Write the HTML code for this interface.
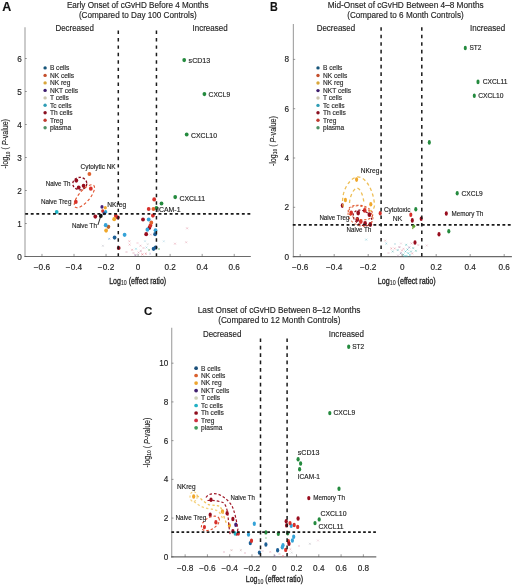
<!DOCTYPE html><html><head><meta charset="utf-8"><style>html,body{margin:0;padding:0;background:#fff;}svg{display:block;}text{font-family:"Liberation Sans", sans-serif;stroke:#2a2a2a;stroke-width:0.15px;paint-order:stroke;} svg{will-change:transform;}</style></head><body>
<svg width="520" height="588" viewBox="0 0 520 588">
<rect width="520" height="588" fill="#fff"/>
<text x="2.20" y="10.50" font-size="12.2" fill="#111" font-weight="bold" textLength="9.00" lengthAdjust="spacingAndGlyphs">A</text>
<text x="66.90" y="8.20" font-size="8.5" fill="#222" font-weight="normal" textLength="141.80" lengthAdjust="spacingAndGlyphs">Early Onset of cGvHD Before 4 Months</text>
<text x="78.90" y="18.30" font-size="8.5" fill="#222" font-weight="normal" textLength="117.80" lengthAdjust="spacingAndGlyphs">(Compared to Day 100 Controls)</text>
<text x="55.40" y="30.70" font-size="8.4" fill="#222" font-weight="normal" textLength="38.50" lengthAdjust="spacingAndGlyphs">Decreased</text>
<text x="192.50" y="30.70" font-size="8.4" fill="#222" font-weight="normal" textLength="35.10" lengthAdjust="spacingAndGlyphs">Increased</text>
<line x1="25.00" y1="27.30" x2="25.00" y2="257.10" stroke="#a8a8a8" stroke-width="1.2"/>
<line x1="24.40" y1="256.50" x2="250.80" y2="256.50" stroke="#6a6a6a" stroke-width="1.1"/>
<line x1="41.98" y1="256.50" x2="41.98" y2="253.90" stroke="#555" stroke-width="0.6"/>
<text x="41.98" y="270.20" text-anchor="middle" font-size="8.2" fill="#222" textLength="16.4" lengthAdjust="spacingAndGlyphs">−0.6</text>
<line x1="74.02" y1="256.50" x2="74.02" y2="253.90" stroke="#555" stroke-width="0.6"/>
<text x="74.02" y="270.20" text-anchor="middle" font-size="8.2" fill="#222" textLength="16.4" lengthAdjust="spacingAndGlyphs">−0.4</text>
<line x1="106.06" y1="256.50" x2="106.06" y2="253.90" stroke="#555" stroke-width="0.6"/>
<text x="106.06" y="270.20" text-anchor="middle" font-size="8.2" fill="#222" textLength="16.4" lengthAdjust="spacingAndGlyphs">−0.2</text>
<line x1="138.10" y1="256.50" x2="138.10" y2="253.90" stroke="#555" stroke-width="0.6"/>
<text x="138.10" y="270.20" text-anchor="middle" font-size="8.2" fill="#222">0</text>
<line x1="170.14" y1="256.50" x2="170.14" y2="253.90" stroke="#555" stroke-width="0.6"/>
<text x="170.14" y="270.20" text-anchor="middle" font-size="8.2" fill="#222">0.2</text>
<line x1="202.18" y1="256.50" x2="202.18" y2="253.90" stroke="#555" stroke-width="0.6"/>
<text x="202.18" y="270.20" text-anchor="middle" font-size="8.2" fill="#222">0.4</text>
<line x1="234.22" y1="256.50" x2="234.22" y2="253.90" stroke="#555" stroke-width="0.6"/>
<text x="234.22" y="270.20" text-anchor="middle" font-size="8.2" fill="#222">0.6</text>
<line x1="25.00" y1="256.50" x2="26.80" y2="256.50" stroke="#555" stroke-width="0.6"/>
<text x="21.70" y="259.50" text-anchor="end" font-size="8.2" fill="#222">0</text>
<line x1="25.00" y1="223.50" x2="26.80" y2="223.50" stroke="#555" stroke-width="0.6"/>
<text x="21.70" y="226.50" text-anchor="end" font-size="8.2" fill="#222">1</text>
<line x1="25.00" y1="190.50" x2="26.80" y2="190.50" stroke="#555" stroke-width="0.6"/>
<text x="21.70" y="193.50" text-anchor="end" font-size="8.2" fill="#222">2</text>
<line x1="25.00" y1="157.50" x2="26.80" y2="157.50" stroke="#555" stroke-width="0.6"/>
<text x="21.70" y="160.50" text-anchor="end" font-size="8.2" fill="#222">3</text>
<line x1="25.00" y1="124.50" x2="26.80" y2="124.50" stroke="#555" stroke-width="0.6"/>
<text x="21.70" y="127.50" text-anchor="end" font-size="8.2" fill="#222">4</text>
<line x1="25.00" y1="91.50" x2="26.80" y2="91.50" stroke="#555" stroke-width="0.6"/>
<text x="21.70" y="94.50" text-anchor="end" font-size="8.2" fill="#222">5</text>
<line x1="25.00" y1="58.50" x2="26.80" y2="58.50" stroke="#555" stroke-width="0.6"/>
<text x="21.70" y="61.50" text-anchor="end" font-size="8.2" fill="#222">6</text>
<g transform="translate(8.40,168.60) rotate(-90)"><text x="0" y="0" font-size="8.6" fill="#222" textLength="49.5" lengthAdjust="spacingAndGlyphs">-log<tspan font-size="6.02" dy="1.5">10</tspan><tspan dy="-1.5"> ( </tspan><tspan font-style="italic">P</tspan>-value)</text></g>
<text x="109.20" y="283.50" font-size="8.9" fill="#222" style="stroke-width:0.32px" textLength="57.00" lengthAdjust="spacingAndGlyphs">Log<tspan font-size="6.59" dy="1.9" style="stroke-width:0.1px">10</tspan><tspan dy="-1.9"> (effect ratio)</tspan></text>
<circle cx="45.10" cy="67.90" r="1.7" fill="#17557a"/>
<text x="49.90" y="70.25" font-size="6.6" fill="#2a2a2a">B cells</text>
<circle cx="45.10" cy="75.40" r="1.7" fill="#c44e2c"/>
<text x="49.90" y="77.75" font-size="6.6" fill="#2a2a2a">NK cells</text>
<circle cx="45.10" cy="82.90" r="1.7" fill="#d9a63a"/>
<text x="49.90" y="85.25" font-size="6.6" fill="#2a2a2a">NK reg</text>
<circle cx="45.10" cy="90.40" r="1.7" fill="#3c1c6c"/>
<text x="49.90" y="92.75" font-size="6.6" fill="#2a2a2a">NKT cells</text>
<circle cx="45.10" cy="97.90" r="1.7" fill="#cdc6ae"/>
<text x="49.90" y="100.25" font-size="6.6" fill="#2a2a2a">T cells</text>
<circle cx="45.10" cy="105.30" r="1.7" fill="#2f9db5"/>
<text x="49.90" y="107.65" font-size="6.6" fill="#2a2a2a">Tc cells</text>
<circle cx="45.10" cy="112.80" r="1.7" fill="#8a1020"/>
<text x="49.90" y="115.15" font-size="6.6" fill="#2a2a2a">Th cells</text>
<circle cx="45.10" cy="120.20" r="1.7" fill="#bf3a2e"/>
<text x="49.90" y="122.55" font-size="6.6" fill="#2a2a2a">Treg</text>
<circle cx="45.10" cy="127.70" r="1.7" fill="#4f9065"/>
<text x="49.90" y="130.05" font-size="6.6" fill="#2a2a2a">plasma</text>
<path d="M128.45,240.35L130.35,242.25M130.35,240.35L128.45,242.25" stroke="#e88a9a" stroke-width="0.6" stroke-opacity="0.7" fill="none"/>
<path d="M128.65,243.65L130.55,245.55M130.55,243.65L128.65,245.55" stroke="#e88a9a" stroke-width="0.6" stroke-opacity="0.7" fill="none"/>
<path d="M131.15,248.85L133.05,250.75M133.05,248.85L131.15,250.75" stroke="#e07a8a" stroke-width="0.6" stroke-opacity="0.7" fill="none"/>
<path d="M139.55,244.75L141.45,246.65M141.45,244.75L139.55,246.65" stroke="#d88a9a" stroke-width="0.6" stroke-opacity="0.7" fill="none"/>
<path d="M139.85,250.05L141.75,251.95M141.75,250.05L139.85,251.95" stroke="#c07090" stroke-width="0.6" stroke-opacity="0.7" fill="none"/>
<path d="M141.45,253.35L143.35,255.25M143.35,253.35L141.45,255.25" stroke="#e05060" stroke-width="0.6" stroke-opacity="0.7" fill="none"/>
<path d="M144.85,252.75L146.75,254.65M146.75,252.75L144.85,254.65" stroke="#e06a7a" stroke-width="0.6" stroke-opacity="0.7" fill="none"/>
<path d="M149.85,233.65L151.75,235.55M151.75,233.65L149.85,235.55" stroke="#e08a9a" stroke-width="0.6" stroke-opacity="0.7" fill="none"/>
<path d="M186.15,227.35L188.05,229.25M188.05,227.35L186.15,229.25" stroke="#e08a9a" stroke-width="0.6" stroke-opacity="0.7" fill="none"/>
<path d="M185.25,241.35L187.15,243.25M187.15,241.35L185.25,243.25" stroke="#e09aa8" stroke-width="0.6" stroke-opacity="0.7" fill="none"/>
<path d="M174.05,242.75L175.95,244.65M175.95,242.75L174.05,244.65" stroke="#e08a9a" stroke-width="0.6" stroke-opacity="0.7" fill="none"/>
<path d="M135.05,247.85L136.95,249.75M136.95,247.85L135.05,249.75" stroke="#60c8d8" stroke-width="0.6" stroke-opacity="0.7" fill="none"/>
<path d="M144.05,240.25L145.95,242.15M145.95,240.25L144.05,242.15" stroke="#9ad0e0" stroke-width="0.6" stroke-opacity="0.7" fill="none"/>
<path d="M162.85,240.35L164.75,242.25M164.75,240.35L162.85,242.25" stroke="#a0d0e0" stroke-width="0.6" stroke-opacity="0.7" fill="none"/>
<path d="M134.45,254.15L136.35,256.05M136.35,254.15L134.45,256.05" stroke="#804080" stroke-width="0.6" stroke-opacity="0.7" fill="none"/>
<path d="M149.15,252.75L151.05,254.65M151.05,252.75L149.15,254.65" stroke="#b0a0d0" stroke-width="0.6" stroke-opacity="0.7" fill="none"/>
<path d="M146.75,243.25L148.65,245.15M148.65,243.25L146.75,245.15" stroke="#c0c0c0" stroke-width="0.6" stroke-opacity="0.7" fill="none"/>
<path d="M101.95,244.85L103.85,246.75M103.85,244.85L101.95,246.75" stroke="#b8b8c0" stroke-width="0.6" stroke-opacity="0.7" fill="none"/>
<path d="M148.15,249.05L150.05,250.95M150.05,249.05L148.15,250.95" stroke="#50a050" stroke-width="0.6" stroke-opacity="0.7" fill="none"/>
<path d="M158.05,248.05L159.95,249.95M159.95,248.05L158.05,249.95" stroke="#40a040" stroke-width="0.6" stroke-opacity="0.7" fill="none"/>
<path d="M137.55,251.55L139.45,253.45M139.45,251.55L137.55,253.45" stroke="#e090a0" stroke-width="0.6" stroke-opacity="0.7" fill="none"/>
<path d="M132.55,252.05L134.45,253.95M134.45,252.05L132.55,253.95" stroke="#e0a0b0" stroke-width="0.6" stroke-opacity="0.7" fill="none"/>
<path d="M136.55,242.05L138.45,243.95M138.45,242.05L136.55,243.95" stroke="#f0b0c0" stroke-width="0.6" stroke-opacity="0.7" fill="none"/>
<path d="M125.55,251.05L127.45,252.95M127.45,251.05L125.55,252.95" stroke="#e0a0b0" stroke-width="0.6" stroke-opacity="0.7" fill="none"/>
<path d="M108.25,237.85L110.15,239.75M110.15,237.85L108.25,239.75" stroke="#3a8ad0" stroke-width="0.6" stroke-opacity="0.7" fill="none"/>
<path d="M142.55,247.05L144.45,248.95M144.45,247.05L142.55,248.95" stroke="#e0a0b0" stroke-width="0.6" stroke-opacity="0.7" fill="none"/>
<path d="M145.55,246.55L147.45,248.45M147.45,246.55L145.55,248.45" stroke="#80c0d8" stroke-width="0.6" stroke-opacity="0.7" fill="none"/>
<ellipse cx="184.20" cy="60.10" rx="1.9" ry="2.1" fill="#248a3e" fill-opacity="1"/>
<ellipse cx="204.40" cy="94.10" rx="1.9" ry="2.1" fill="#248a3e" fill-opacity="1"/>
<ellipse cx="186.70" cy="134.50" rx="1.9" ry="2.1" fill="#248a3e" fill-opacity="1"/>
<ellipse cx="175.20" cy="197.10" rx="1.9" ry="2.1" fill="#248a3e" fill-opacity="1"/>
<ellipse cx="161.50" cy="203.50" rx="1.9" ry="2.1" fill="#248a3e" fill-opacity="1"/>
<ellipse cx="156.40" cy="208.00" rx="1.9" ry="2.1" fill="#248a3e" fill-opacity="1"/>
<ellipse cx="89.40" cy="174.00" rx="1.9" ry="2.1" fill="#e0622e" fill-opacity="1"/>
<ellipse cx="76.30" cy="180.60" rx="1.9" ry="2.1" fill="#980d1e" fill-opacity="1"/>
<ellipse cx="78.70" cy="187.50" rx="1.9" ry="2.1" fill="#980d1e" fill-opacity="1"/>
<ellipse cx="83.60" cy="185.80" rx="1.9" ry="2.1" fill="#980d1e" fill-opacity="1"/>
<ellipse cx="95.30" cy="216.60" rx="1.9" ry="2.1" fill="#980d1e" fill-opacity="1"/>
<ellipse cx="143.00" cy="219.50" rx="1.9" ry="2.1" fill="#980d1e" fill-opacity="1"/>
<ellipse cx="149.40" cy="227.80" rx="1.9" ry="2.1" fill="#980d1e" fill-opacity="1"/>
<ellipse cx="146.20" cy="234.20" rx="1.9" ry="2.1" fill="#980d1e" fill-opacity="1"/>
<ellipse cx="118.70" cy="248.00" rx="1.9" ry="2.1" fill="#980d1e" fill-opacity="1"/>
<ellipse cx="90.80" cy="188.70" rx="1.9" ry="2.1" fill="#d7302a" fill-opacity="1"/>
<ellipse cx="75.80" cy="201.90" rx="1.9" ry="2.1" fill="#d7302a" fill-opacity="1"/>
<ellipse cx="102.70" cy="211.10" rx="1.6" ry="1.8" fill="#d7302a" fill-opacity="1"/>
<ellipse cx="117.90" cy="217.50" rx="1.9" ry="2.1" fill="#980d1e" fill-opacity="1"/>
<ellipse cx="115.80" cy="215.80" rx="1.9" ry="2.1" fill="#d7302a" fill-opacity="1"/>
<ellipse cx="154.20" cy="199.40" rx="1.9" ry="2.1" fill="#d7302a" fill-opacity="1"/>
<ellipse cx="148.70" cy="209.00" rx="1.9" ry="2.1" fill="#d7302a" fill-opacity="1"/>
<ellipse cx="153.40" cy="209.00" rx="1.9" ry="2.1" fill="#e0622e" fill-opacity="1"/>
<ellipse cx="152.90" cy="215.60" rx="1.9" ry="2.1" fill="#d7302a" fill-opacity="1"/>
<ellipse cx="150.40" cy="225.60" rx="1.9" ry="2.1" fill="#d7302a" fill-opacity="1"/>
<ellipse cx="114.20" cy="219.20" rx="1.9" ry="2.1" fill="#f0a72a" fill-opacity="1"/>
<ellipse cx="151.30" cy="222.70" rx="1.9" ry="2.1" fill="#e0622e" fill-opacity="1"/>
<ellipse cx="108.40" cy="226.80" rx="1.9" ry="2.1" fill="#b8602a" fill-opacity="1"/>
<ellipse cx="106.10" cy="230.60" rx="1.9" ry="2.1" fill="#f0a72a" fill-opacity="1"/>
<ellipse cx="102.00" cy="206.90" rx="1.6" ry="1.8" fill="#45207a" fill-opacity="1"/>
<ellipse cx="105.30" cy="207.70" rx="1.6" ry="1.8" fill="#f0a72a" fill-opacity="1"/>
<ellipse cx="105.70" cy="211.90" rx="1.6" ry="1.8" fill="#2fa6d3" fill-opacity="1"/>
<ellipse cx="104.20" cy="213.40" rx="1.6" ry="1.8" fill="#3050a0" fill-opacity="1"/>
<ellipse cx="56.70" cy="212.00" rx="1.9" ry="2.1" fill="#1fb3c3" fill-opacity="1"/>
<ellipse cx="105.70" cy="225.20" rx="1.9" ry="2.1" fill="#35a3d8" fill-opacity="1"/>
<ellipse cx="124.60" cy="234.80" rx="1.9" ry="2.1" fill="#35a3d8" fill-opacity="1"/>
<ellipse cx="148.70" cy="219.50" rx="1.9" ry="2.1" fill="#35a3d8" fill-opacity="1"/>
<ellipse cx="147.40" cy="229.70" rx="1.9" ry="2.1" fill="#35a3d8" fill-opacity="1"/>
<ellipse cx="114.60" cy="237.60" rx="1.9" ry="2.1" fill="#1d5f95" fill-opacity="1"/>
<ellipse cx="155.50" cy="230.30" rx="1.9" ry="2.1" fill="#35a3d8" fill-opacity="1"/>
<ellipse cx="155.10" cy="234.20" rx="1.9" ry="2.1" fill="#1d5f95" fill-opacity="1"/>
<ellipse cx="153.60" cy="248.80" rx="1.9" ry="2.1" fill="#1d5f95" fill-opacity="1"/>
<ellipse cx="155.60" cy="247.50" rx="1.9" ry="2.1" fill="#1d5f95" fill-opacity="1"/>
<ellipse cx="100.80" cy="215.90" rx="1.9" ry="2.1" fill="#111111" fill-opacity="1"/>
<line x1="118.30" y1="30.60" x2="118.30" y2="256.30" stroke="#1a1a1a" stroke-width="1.5" stroke-dasharray="3.4 4.02"/>
<line x1="156.45" y1="30.60" x2="156.45" y2="256.30" stroke="#1a1a1a" stroke-width="1.5" stroke-dasharray="3.4 4.02"/>
<line x1="25.20" y1="213.90" x2="250.50" y2="213.90" stroke="#1a1a1a" stroke-width="1.8" stroke-dasharray="2.9 2.655"/>
<ellipse cx="79.8" cy="183.6" rx="7.0" ry="6.2" transform="rotate(0 79.8 183.6)" fill="none" stroke="#8a0a1a" stroke-width="1.3" stroke-dasharray="2.4 1.8"/>
<ellipse cx="84.4" cy="196.2" rx="14.3" ry="5.6" transform="rotate(-50 84.4 196.2)" fill="none" stroke="#e0502a" stroke-width="1.1" stroke-dasharray="2.8 2.2"/>
<line x1="97.90" y1="225.00" x2="100.90" y2="215.80" stroke="#111" stroke-width="0.9"/>
<text x="188.60" y="63.20" font-size="6.8" fill="#222" font-weight="normal" textLength="21.60" lengthAdjust="spacingAndGlyphs">sCD13</text>
<text x="208.60" y="97.20" font-size="6.8" fill="#222" font-weight="normal" textLength="21.50" lengthAdjust="spacingAndGlyphs">CXCL9</text>
<text x="191.00" y="137.60" font-size="6.8" fill="#222" font-weight="normal" textLength="26.00" lengthAdjust="spacingAndGlyphs">CXCL10</text>
<text x="179.50" y="200.60" font-size="6.8" fill="#222" font-weight="normal" textLength="25.50" lengthAdjust="spacingAndGlyphs">CXCL11</text>
<text x="157.10" y="211.70" font-size="6.8" fill="#222" font-weight="normal" textLength="23.40" lengthAdjust="spacingAndGlyphs">ICAM-1</text>
<text x="80.50" y="169.40" font-size="6.8" fill="#222" font-weight="normal" textLength="35.10" lengthAdjust="spacingAndGlyphs">Cytolytic NK</text>
<text x="45.70" y="186.10" font-size="6.8" fill="#222" font-weight="normal" textLength="24.70" lengthAdjust="spacingAndGlyphs">Naive Th</text>
<text x="40.90" y="204.00" font-size="6.8" fill="#222" font-weight="normal" textLength="30.50" lengthAdjust="spacingAndGlyphs">Naive Treg</text>
<text x="107.30" y="206.90" font-size="6.8" fill="#222" font-weight="normal" textLength="18.90" lengthAdjust="spacingAndGlyphs">NKreg</text>
<text x="71.90" y="228.00" font-size="6.8" fill="#222" font-weight="normal" textLength="25.00" lengthAdjust="spacingAndGlyphs">Naive Th</text>
<text x="270.10" y="10.70" font-size="12.2" fill="#111" font-weight="bold" textLength="7.80" lengthAdjust="spacingAndGlyphs">B</text>
<text x="327.70" y="8.20" font-size="8.5" fill="#222" font-weight="normal" textLength="156.00" lengthAdjust="spacingAndGlyphs">Mid-Onset of cGvHD Between 4–8 Months</text>
<text x="347.20" y="18.30" font-size="8.5" fill="#222" font-weight="normal" textLength="116.50" lengthAdjust="spacingAndGlyphs">(Compared to 6 Month Controls)</text>
<text x="316.70" y="30.70" font-size="8.4" fill="#222" font-weight="normal" textLength="38.50" lengthAdjust="spacingAndGlyphs">Decreased</text>
<text x="470.10" y="30.70" font-size="8.4" fill="#222" font-weight="normal" textLength="35.10" lengthAdjust="spacingAndGlyphs">Increased</text>
<line x1="293.40" y1="24.00" x2="293.40" y2="257.20" stroke="#a8a8a8" stroke-width="1.2"/>
<line x1="292.80" y1="256.60" x2="511.90" y2="256.60" stroke="#6a6a6a" stroke-width="1.1"/>
<line x1="300.20" y1="256.60" x2="300.20" y2="254.00" stroke="#555" stroke-width="0.6"/>
<text x="300.20" y="270.20" text-anchor="middle" font-size="8.2" fill="#222" textLength="16.4" lengthAdjust="spacingAndGlyphs">−0.6</text>
<line x1="334.20" y1="256.60" x2="334.20" y2="254.00" stroke="#555" stroke-width="0.6"/>
<text x="334.20" y="270.20" text-anchor="middle" font-size="8.2" fill="#222" textLength="16.4" lengthAdjust="spacingAndGlyphs">−0.4</text>
<line x1="368.20" y1="256.60" x2="368.20" y2="254.00" stroke="#555" stroke-width="0.6"/>
<text x="368.20" y="270.20" text-anchor="middle" font-size="8.2" fill="#222" textLength="16.4" lengthAdjust="spacingAndGlyphs">−0.2</text>
<line x1="402.20" y1="256.60" x2="402.20" y2="254.00" stroke="#555" stroke-width="0.6"/>
<text x="402.20" y="270.20" text-anchor="middle" font-size="8.2" fill="#222">0</text>
<line x1="436.20" y1="256.60" x2="436.20" y2="254.00" stroke="#555" stroke-width="0.6"/>
<text x="436.20" y="270.20" text-anchor="middle" font-size="8.2" fill="#222">0.2</text>
<line x1="470.20" y1="256.60" x2="470.20" y2="254.00" stroke="#555" stroke-width="0.6"/>
<text x="470.20" y="270.20" text-anchor="middle" font-size="8.2" fill="#222">0.4</text>
<line x1="504.20" y1="256.60" x2="504.20" y2="254.00" stroke="#555" stroke-width="0.6"/>
<text x="504.20" y="270.20" text-anchor="middle" font-size="8.2" fill="#222">0.6</text>
<line x1="293.40" y1="256.60" x2="295.20" y2="256.60" stroke="#555" stroke-width="0.6"/>
<text x="289.10" y="259.60" text-anchor="end" font-size="8.2" fill="#222">0</text>
<line x1="293.40" y1="207.30" x2="295.20" y2="207.30" stroke="#555" stroke-width="0.6"/>
<text x="289.10" y="210.30" text-anchor="end" font-size="8.2" fill="#222">2</text>
<line x1="293.40" y1="158.00" x2="295.20" y2="158.00" stroke="#555" stroke-width="0.6"/>
<text x="289.10" y="161.00" text-anchor="end" font-size="8.2" fill="#222">4</text>
<line x1="293.40" y1="108.70" x2="295.20" y2="108.70" stroke="#555" stroke-width="0.6"/>
<text x="289.10" y="111.70" text-anchor="end" font-size="8.2" fill="#222">6</text>
<line x1="293.40" y1="59.40" x2="295.20" y2="59.40" stroke="#555" stroke-width="0.6"/>
<text x="289.10" y="62.40" text-anchor="end" font-size="8.2" fill="#222">8</text>
<g transform="translate(275.50,166.10) rotate(-90)"><text x="0" y="0" font-size="8.6" fill="#222" textLength="50.0" lengthAdjust="spacingAndGlyphs">-log<tspan font-size="6.02" dy="1.5">10</tspan><tspan dy="-1.5"> ( </tspan><tspan font-style="italic">P</tspan>-value)</text></g>
<text x="377.80" y="283.50" font-size="8.9" fill="#222" style="stroke-width:0.32px" textLength="57.80" lengthAdjust="spacingAndGlyphs">Log<tspan font-size="6.59" dy="1.9" style="stroke-width:0.1px">10</tspan><tspan dy="-1.9"> (effect ratio)</tspan></text>
<circle cx="318.00" cy="67.90" r="1.7" fill="#17557a"/>
<text x="323.00" y="70.25" font-size="6.6" fill="#2a2a2a">B cells</text>
<circle cx="318.00" cy="75.50" r="1.7" fill="#c44e2c"/>
<text x="323.00" y="77.85" font-size="6.6" fill="#2a2a2a">NK cells</text>
<circle cx="318.00" cy="83.00" r="1.7" fill="#d9a63a"/>
<text x="323.00" y="85.35" font-size="6.6" fill="#2a2a2a">NK reg</text>
<circle cx="318.00" cy="90.60" r="1.7" fill="#3c1c6c"/>
<text x="323.00" y="92.95" font-size="6.6" fill="#2a2a2a">NKT cells</text>
<circle cx="318.00" cy="98.00" r="1.7" fill="#cdc6ae"/>
<text x="323.00" y="100.35" font-size="6.6" fill="#2a2a2a">T cells</text>
<circle cx="318.00" cy="105.40" r="1.7" fill="#2f9db5"/>
<text x="323.00" y="107.75" font-size="6.6" fill="#2a2a2a">Tc cells</text>
<circle cx="318.00" cy="112.80" r="1.7" fill="#8a1020"/>
<text x="323.00" y="115.15" font-size="6.6" fill="#2a2a2a">Th cells</text>
<circle cx="318.00" cy="120.20" r="1.7" fill="#bf3a2e"/>
<text x="323.00" y="122.55" font-size="6.6" fill="#2a2a2a">Treg</text>
<circle cx="318.00" cy="127.70" r="1.7" fill="#4f9065"/>
<text x="323.00" y="130.05" font-size="6.6" fill="#2a2a2a">plasma</text>
<path d="M384.25,239.65L386.15,241.55M386.15,239.65L384.25,241.55" stroke="#e89aa8" stroke-width="0.6" stroke-opacity="0.7" fill="none"/>
<path d="M385.35,242.55L387.25,244.45M387.25,242.55L385.35,244.45" stroke="#60b8c8" stroke-width="0.6" stroke-opacity="0.7" fill="none"/>
<path d="M390.35,247.55L392.25,249.45M392.25,247.55L390.35,249.45" stroke="#e07a8a" stroke-width="0.6" stroke-opacity="0.7" fill="none"/>
<path d="M393.75,247.55L395.65,249.45M395.65,247.55L393.75,249.45" stroke="#e07a8a" stroke-width="0.6" stroke-opacity="0.7" fill="none"/>
<path d="M398.45,246.15L400.35,248.05M400.35,246.15L398.45,248.05" stroke="#b06090" stroke-width="0.6" stroke-opacity="0.7" fill="none"/>
<path d="M391.75,250.55L393.65,252.45M393.65,250.55L391.75,252.45" stroke="#40a0a0" stroke-width="0.6" stroke-opacity="0.7" fill="none"/>
<path d="M396.75,249.15L398.65,251.05M398.65,249.15L396.75,251.05" stroke="#40a8b0" stroke-width="0.6" stroke-opacity="0.7" fill="none"/>
<path d="M402.55,247.85L404.45,249.75M404.45,247.85L402.55,249.75" stroke="#e090a0" stroke-width="0.6" stroke-opacity="0.7" fill="none"/>
<path d="M405.25,243.85L407.15,245.75M407.15,243.85L405.25,245.75" stroke="#40b0b0" stroke-width="0.6" stroke-opacity="0.7" fill="none"/>
<path d="M404.55,250.55L406.45,252.45M406.45,250.55L404.55,252.45" stroke="#30b8c0" stroke-width="0.6" stroke-opacity="0.7" fill="none"/>
<path d="M407.25,252.25L409.15,254.15M409.15,252.25L407.25,254.15" stroke="#30c0c8" stroke-width="0.6" stroke-opacity="0.7" fill="none"/>
<path d="M399.85,252.25L401.75,254.15M401.75,252.25L399.85,254.15" stroke="#6a5a8a" stroke-width="0.6" stroke-opacity="0.7" fill="none"/>
<path d="M402.55,253.55L404.45,255.45M404.45,253.55L402.55,255.45" stroke="#40b0b0" stroke-width="0.6" stroke-opacity="0.7" fill="none"/>
<path d="M410.55,242.45L412.45,244.35M412.45,242.45L410.55,244.35" stroke="#e090a0" stroke-width="0.6" stroke-opacity="0.7" fill="none"/>
<path d="M412.25,247.15L414.15,249.05M414.15,247.15L412.25,249.05" stroke="#40a0a0" stroke-width="0.6" stroke-opacity="0.7" fill="none"/>
<path d="M414.95,249.85L416.85,251.75M416.85,249.85L414.95,251.75" stroke="#40b0a0" stroke-width="0.6" stroke-opacity="0.7" fill="none"/>
<path d="M411.25,252.55L413.15,254.45M413.15,252.55L411.25,254.45" stroke="#e08090" stroke-width="0.6" stroke-opacity="0.7" fill="none"/>
<path d="M417.35,244.15L419.25,246.05M419.25,244.15L417.35,246.05" stroke="#e0a0b0" stroke-width="0.6" stroke-opacity="0.7" fill="none"/>
<path d="M408.25,246.45L410.15,248.35M410.15,246.45L408.25,248.35" stroke="#8060a0" stroke-width="0.6" stroke-opacity="0.7" fill="none"/>
<path d="M425.75,244.55L427.65,246.45M427.65,244.55L425.75,246.45" stroke="#e0a0b0" stroke-width="0.6" stroke-opacity="0.7" fill="none"/>
<path d="M365.25,238.65L367.15,240.55M367.15,238.65L365.25,240.55" stroke="#60c0d0" stroke-width="0.6" stroke-opacity="0.7" fill="none"/>
<path d="M405.55,255.05L407.45,256.95M407.45,255.05L405.55,256.95" stroke="#30c0c8" stroke-width="0.6" stroke-opacity="0.7" fill="none"/>
<path d="M397.05,254.55L398.95,256.45M398.95,254.55L397.05,256.45" stroke="#c0a0c0" stroke-width="0.6" stroke-opacity="0.7" fill="none"/>
<path d="M387.55,252.05L389.45,253.95M389.45,252.05L387.55,253.95" stroke="#e0b0c0" stroke-width="0.6" stroke-opacity="0.7" fill="none"/>
<path d="M400.05,242.55L401.95,244.45M401.95,242.55L400.05,244.45" stroke="#e0b0c0" stroke-width="0.6" stroke-opacity="0.7" fill="none"/>
<path d="M394.05,243.05L395.95,244.95M395.95,243.05L394.05,244.95" stroke="#a0d0d8" stroke-width="0.6" stroke-opacity="0.7" fill="none"/>
<path d="M406.55,248.55L408.45,250.45M408.45,248.55L406.55,250.45" stroke="#30b0b8" stroke-width="0.6" stroke-opacity="0.7" fill="none"/>
<path d="M408.85,254.05L410.75,255.95M410.75,254.05L408.85,255.95" stroke="#20c0c8" stroke-width="0.6" stroke-opacity="0.7" fill="none"/>
<path d="M403.55,255.25L405.45,257.15M405.45,255.25L403.55,257.15" stroke="#30b8c0" stroke-width="0.6" stroke-opacity="0.7" fill="none"/>
<path d="M410.05,250.55L411.95,252.45M411.95,250.55L410.05,252.45" stroke="#40a8b0" stroke-width="0.6" stroke-opacity="0.7" fill="none"/>
<path d="M401.05,249.55L402.95,251.45M402.95,249.55L401.05,251.45" stroke="#e08090" stroke-width="0.6" stroke-opacity="0.7" fill="none"/>
<ellipse cx="465.30" cy="48.00" rx="1.55" ry="2.3" fill="#248a3e" fill-opacity="1"/>
<ellipse cx="478.00" cy="81.90" rx="1.55" ry="2.3" fill="#248a3e" fill-opacity="1"/>
<ellipse cx="474.30" cy="95.80" rx="1.55" ry="2.3" fill="#248a3e" fill-opacity="1"/>
<ellipse cx="429.30" cy="142.40" rx="1.55" ry="2.3" fill="#248a3e" fill-opacity="1"/>
<ellipse cx="457.20" cy="193.20" rx="1.55" ry="2.3" fill="#248a3e" fill-opacity="1"/>
<ellipse cx="415.80" cy="209.20" rx="1.55" ry="2.3" fill="#248a3e" fill-opacity="1"/>
<ellipse cx="448.80" cy="231.20" rx="1.55" ry="2.3" fill="#248a3e" fill-opacity="1"/>
<ellipse cx="446.30" cy="213.50" rx="1.55" ry="2.3" fill="#980d1e" fill-opacity="1"/>
<ellipse cx="412.30" cy="220.40" rx="1.55" ry="2.3" fill="#980d1e" fill-opacity="1"/>
<ellipse cx="421.20" cy="218.80" rx="1.55" ry="2.3" fill="#980d1e" fill-opacity="1"/>
<ellipse cx="439.00" cy="234.20" rx="1.55" ry="2.3" fill="#980d1e" fill-opacity="1"/>
<ellipse cx="342.30" cy="205.60" rx="1.55" ry="2.3" fill="#980d1e" fill-opacity="1"/>
<ellipse cx="415.00" cy="242.50" rx="1.55" ry="2.3" fill="#980d1e" fill-opacity="1"/>
<ellipse cx="410.80" cy="214.70" rx="1.55" ry="2.3" fill="#d7302a" fill-opacity="1"/>
<ellipse cx="380.20" cy="213.20" rx="1.55" ry="2.3" fill="#d7302a" fill-opacity="1"/>
<ellipse cx="356.60" cy="179.60" rx="1.55" ry="2.3" fill="#f0a72a" fill-opacity="1"/>
<ellipse cx="345.40" cy="200.00" rx="1.55" ry="2.3" fill="#f0a72a" fill-opacity="1"/>
<ellipse cx="370.80" cy="204.30" rx="1.55" ry="2.3" fill="#f0a72a" fill-opacity="1"/>
<ellipse cx="351.20" cy="213.00" rx="1.85" ry="2.4" fill="#d7302a" fill-opacity="1"/>
<ellipse cx="358.20" cy="213.00" rx="1.85" ry="2.4" fill="#980d1e" fill-opacity="1"/>
<ellipse cx="364.70" cy="210.40" rx="1.85" ry="2.4" fill="#d7302a" fill-opacity="1"/>
<ellipse cx="369.40" cy="214.70" rx="1.85" ry="2.4" fill="#980d1e" fill-opacity="1"/>
<ellipse cx="357.30" cy="219.50" rx="1.85" ry="2.4" fill="#980d1e" fill-opacity="1"/>
<ellipse cx="360.80" cy="221.60" rx="1.85" ry="2.4" fill="#d7302a" fill-opacity="1"/>
<ellipse cx="365.10" cy="223.40" rx="1.85" ry="2.4" fill="#980d1e" fill-opacity="1"/>
<ellipse cx="370.30" cy="224.50" rx="1.85" ry="2.4" fill="#980d1e" fill-opacity="1"/>
<line x1="381.10" y1="27.20" x2="381.10" y2="256.60" stroke="#1a1a1a" stroke-width="1.5" stroke-dasharray="3.6 3.927"/>
<line x1="421.80" y1="27.20" x2="421.80" y2="256.60" stroke="#1a1a1a" stroke-width="1.5" stroke-dasharray="3.6 3.927"/>
<line x1="292.80" y1="224.80" x2="511.00" y2="224.80" stroke="#1a1a1a" stroke-width="1.8" stroke-dasharray="2.85 2.525"/>
<path d="M343.5,207 C340,196 347,180 356.5,177 C365,175.5 373,189 374.5,204 C375,210 370,212 366,211" fill="none" stroke="#eebf58" stroke-width="1.3" stroke-dasharray="3.3 2.7"/>
<path d="M349.5,203 C350,196 353.5,188.5 357,188 C360.5,188.5 363.5,196 364,204" fill="none" stroke="#eebf58" stroke-width="1.3" stroke-dasharray="3.3 2.7"/>
<ellipse cx="360.5" cy="212.5" rx="12.5" ry="7.0" transform="rotate(12 360.5 212.5)" fill="none" stroke="#e05020" stroke-width="1.1" stroke-dasharray="2.2 1.9"/>
<ellipse cx="362.5" cy="218.0" rx="10.0" ry="7.0" transform="rotate(30 362.5 218.0)" fill="none" stroke="#8a0a1a" stroke-width="1.1" stroke-dasharray="2.2 1.8"/>
<ellipse cx="360.5" cy="216.0" rx="13.0" ry="9.5" transform="rotate(25 360.5 216.0)" fill="none" stroke="#e0603a" stroke-width="1.0" stroke-dasharray="2.2 2.2"/>
<ellipse cx="413.80" cy="226.20" rx="1.5" ry="1.6" fill="#5aa032" fill-opacity="1"/>
<path d="M413.3,226.5 L412.6,229.2" fill="none" stroke="#6aa030" stroke-width="1.1" stroke-dasharray="none"/>
<text x="469.40" y="50.30" font-size="6.8" fill="#222" font-weight="normal" textLength="12.00" lengthAdjust="spacingAndGlyphs">ST2</text>
<text x="482.80" y="84.20" font-size="6.8" fill="#222" font-weight="normal" textLength="24.70" lengthAdjust="spacingAndGlyphs">CXCL11</text>
<text x="478.20" y="98.10" font-size="6.8" fill="#222" font-weight="normal" textLength="25.40" lengthAdjust="spacingAndGlyphs">CXCL10</text>
<text x="461.50" y="195.50" font-size="6.8" fill="#222" font-weight="normal" textLength="21.30" lengthAdjust="spacingAndGlyphs">CXCL9</text>
<text x="451.60" y="215.80" font-size="6.8" fill="#222" font-weight="normal" textLength="31.70" lengthAdjust="spacingAndGlyphs">Memory Th</text>
<text x="383.90" y="212.20" font-size="6.8" fill="#222" font-weight="normal" textLength="26.60" lengthAdjust="spacingAndGlyphs">Cytotoxic</text>
<text x="392.80" y="220.70" font-size="6.8" fill="#222" font-weight="normal" textLength="9.40" lengthAdjust="spacingAndGlyphs">NK</text>
<text x="360.70" y="173.10" font-size="6.8" fill="#222" font-weight="normal" textLength="18.70" lengthAdjust="spacingAndGlyphs">NKreg</text>
<text x="319.40" y="220.40" font-size="6.8" fill="#222" font-weight="normal" textLength="30.00" lengthAdjust="spacingAndGlyphs">Naive Treg</text>
<text x="346.60" y="231.90" font-size="6.8" fill="#222" font-weight="normal" textLength="24.70" lengthAdjust="spacingAndGlyphs">Naive Th</text>
<text x="144.00" y="315.40" font-size="11.8" fill="#111" font-weight="bold" textLength="8.30" lengthAdjust="spacingAndGlyphs">C</text>
<text x="197.70" y="313.10" font-size="8.5" fill="#222" font-weight="normal" textLength="162.70" lengthAdjust="spacingAndGlyphs">Last Onset of cGvHD Between 8–12 Months</text>
<text x="218.20" y="323.20" font-size="8.5" fill="#222" font-weight="normal" textLength="122.20" lengthAdjust="spacingAndGlyphs">(Compared to 12 Month Controls)</text>
<text x="202.90" y="336.70" font-size="8.4" fill="#222" font-weight="normal" textLength="38.50" lengthAdjust="spacingAndGlyphs">Decreased</text>
<text x="328.70" y="336.80" font-size="8.4" fill="#222" font-weight="normal" textLength="35.20" lengthAdjust="spacingAndGlyphs">Increased</text>
<line x1="171.70" y1="327.70" x2="171.70" y2="557.50" stroke="#a8a8a8" stroke-width="1.2"/>
<line x1="171.10" y1="556.90" x2="376.30" y2="556.90" stroke="#6a6a6a" stroke-width="1.1"/>
<line x1="185.13" y1="556.90" x2="185.13" y2="554.30" stroke="#555" stroke-width="0.6"/>
<text x="185.13" y="570.70" text-anchor="middle" font-size="8.2" fill="#222" textLength="16.4" lengthAdjust="spacingAndGlyphs">−0.8</text>
<line x1="207.41" y1="556.90" x2="207.41" y2="554.30" stroke="#555" stroke-width="0.6"/>
<text x="207.41" y="570.70" text-anchor="middle" font-size="8.2" fill="#222" textLength="16.4" lengthAdjust="spacingAndGlyphs">−0.6</text>
<line x1="229.69" y1="556.90" x2="229.69" y2="554.30" stroke="#555" stroke-width="0.6"/>
<text x="229.69" y="570.70" text-anchor="middle" font-size="8.2" fill="#222" textLength="16.4" lengthAdjust="spacingAndGlyphs">−0.4</text>
<line x1="251.97" y1="556.90" x2="251.97" y2="554.30" stroke="#555" stroke-width="0.6"/>
<text x="251.97" y="570.70" text-anchor="middle" font-size="8.2" fill="#222" textLength="16.4" lengthAdjust="spacingAndGlyphs">−0.2</text>
<line x1="274.25" y1="556.90" x2="274.25" y2="554.30" stroke="#555" stroke-width="0.6"/>
<text x="274.25" y="570.70" text-anchor="middle" font-size="8.2" fill="#222">0</text>
<line x1="296.53" y1="556.90" x2="296.53" y2="554.30" stroke="#555" stroke-width="0.6"/>
<text x="296.53" y="570.70" text-anchor="middle" font-size="8.2" fill="#222">0.2</text>
<line x1="318.81" y1="556.90" x2="318.81" y2="554.30" stroke="#555" stroke-width="0.6"/>
<text x="318.81" y="570.70" text-anchor="middle" font-size="8.2" fill="#222">0.4</text>
<line x1="341.09" y1="556.90" x2="341.09" y2="554.30" stroke="#555" stroke-width="0.6"/>
<text x="341.09" y="570.70" text-anchor="middle" font-size="8.2" fill="#222">0.6</text>
<line x1="363.37" y1="556.90" x2="363.37" y2="554.30" stroke="#555" stroke-width="0.6"/>
<text x="363.37" y="570.70" text-anchor="middle" font-size="8.2" fill="#222">0.8</text>
<line x1="171.70" y1="556.80" x2="173.50" y2="556.80" stroke="#555" stroke-width="0.6"/>
<text x="168.40" y="559.80" text-anchor="end" font-size="8.2" fill="#222">0</text>
<line x1="171.70" y1="518.08" x2="173.50" y2="518.08" stroke="#555" stroke-width="0.6"/>
<text x="168.40" y="521.08" text-anchor="end" font-size="8.2" fill="#222">2</text>
<line x1="171.70" y1="479.36" x2="173.50" y2="479.36" stroke="#555" stroke-width="0.6"/>
<text x="168.40" y="482.36" text-anchor="end" font-size="8.2" fill="#222">4</text>
<line x1="171.70" y1="440.64" x2="173.50" y2="440.64" stroke="#555" stroke-width="0.6"/>
<text x="168.40" y="443.64" text-anchor="end" font-size="8.2" fill="#222">6</text>
<line x1="171.70" y1="401.92" x2="173.50" y2="401.92" stroke="#555" stroke-width="0.6"/>
<text x="168.40" y="404.92" text-anchor="end" font-size="8.2" fill="#222">8</text>
<line x1="171.70" y1="363.20" x2="173.50" y2="363.20" stroke="#555" stroke-width="0.6"/>
<text x="168.40" y="366.20" text-anchor="end" font-size="8.2" fill="#222">10</text>
<g transform="translate(149.50,467.60) rotate(-90)"><text x="0" y="0" font-size="8.6" fill="#222" textLength="50.0" lengthAdjust="spacingAndGlyphs">-log<tspan font-size="6.02" dy="1.5">10</tspan><tspan dy="-1.5"> ( </tspan><tspan font-style="italic">P</tspan>-value)</text></g>
<text x="245.70" y="582.30" font-size="8.9" fill="#222" style="stroke-width:0.32px" textLength="57.30" lengthAdjust="spacingAndGlyphs">Log<tspan font-size="6.59" dy="1.9" style="stroke-width:0.1px">10</tspan><tspan dy="-1.9"> (effect ratio)</tspan></text>
<circle cx="196.10" cy="368.20" r="1.85" fill="#1b4f7a"/>
<text x="201.10" y="370.55" font-size="6.6" fill="#2a2a2a">B cells</text>
<circle cx="196.10" cy="375.50" r="1.85" fill="#d9602e"/>
<text x="201.10" y="377.85" font-size="6.6" fill="#2a2a2a">NK cells</text>
<circle cx="196.10" cy="383.10" r="1.85" fill="#eda52e"/>
<text x="201.10" y="385.45" font-size="6.6" fill="#2a2a2a">NK reg</text>
<circle cx="196.10" cy="390.60" r="1.85" fill="#40206e"/>
<text x="201.10" y="392.95" font-size="6.6" fill="#2a2a2a">NKT cells</text>
<circle cx="196.10" cy="398.00" r="1.85" fill="#cfd2b8"/>
<text x="201.10" y="400.35" font-size="6.6" fill="#2a2a2a">T cells</text>
<circle cx="196.10" cy="405.50" r="1.85" fill="#22b0c4"/>
<text x="201.10" y="407.85" font-size="6.6" fill="#2a2a2a">Tc cells</text>
<circle cx="196.10" cy="413.00" r="1.85" fill="#8e0c1c"/>
<text x="201.10" y="415.35" font-size="6.6" fill="#2a2a2a">Th cells</text>
<circle cx="196.10" cy="420.40" r="1.85" fill="#cc3040"/>
<text x="201.10" y="422.75" font-size="6.6" fill="#2a2a2a">Treg</text>
<circle cx="196.10" cy="427.80" r="1.85" fill="#3f9a5a"/>
<text x="201.10" y="430.15" font-size="6.6" fill="#2a2a2a">plasma</text>
<path d="M230.55,549.25L232.45,551.15M232.45,549.25L230.55,551.15" stroke="#c09090" stroke-width="0.6" stroke-opacity="0.7" fill="none"/>
<path d="M239.85,549.25L241.75,551.15M241.75,549.25L239.85,551.15" stroke="#c0a0a0" stroke-width="0.6" stroke-opacity="0.7" fill="none"/>
<path d="M269.25,550.95L271.15,552.85M271.15,550.95L269.25,552.85" stroke="#e0a0b0" stroke-width="0.6" stroke-opacity="0.7" fill="none"/>
<path d="M273.95,555.05L275.85,556.95M275.85,555.05L273.95,556.95" stroke="#a080c0" stroke-width="0.6" stroke-opacity="0.7" fill="none"/>
<path d="M282.05,555.05L283.95,556.95M283.95,555.05L282.05,556.95" stroke="#e06070" stroke-width="0.6" stroke-opacity="0.7" fill="none"/>
<path d="M308.95,542.85L310.85,544.75M310.85,542.85L308.95,544.75" stroke="#b0b0b8" stroke-width="0.6" stroke-opacity="0.7" fill="none"/>
<path d="M290.75,551.65L292.65,553.55M292.65,551.65L290.75,553.55" stroke="#c0c0c8" stroke-width="0.6" stroke-opacity="0.7" fill="none"/>
<path d="M289.45,548.25L291.35,550.15M291.35,548.25L289.45,550.15" stroke="#e0a0b0" stroke-width="0.6" stroke-opacity="0.7" fill="none"/>
<path d="M261.55,550.05L263.45,551.95M263.45,550.05L261.55,551.95" stroke="#e0b0c0" stroke-width="0.6" stroke-opacity="0.7" fill="none"/>
<path d="M278.55,553.05L280.45,554.95M280.45,553.05L278.55,554.95" stroke="#e0a0b0" stroke-width="0.6" stroke-opacity="0.7" fill="none"/>
<path d="M286.05,554.05L287.95,555.95M287.95,554.05L286.05,555.95" stroke="#9080b0" stroke-width="0.6" stroke-opacity="0.7" fill="none"/>
<path d="M298.05,545.05L299.95,546.95M299.95,545.05L298.05,546.95" stroke="#e0b0c0" stroke-width="0.6" stroke-opacity="0.7" fill="none"/>
<path d="M244.05,552.05L245.95,553.95M245.95,552.05L244.05,553.95" stroke="#e0b0c0" stroke-width="0.6" stroke-opacity="0.7" fill="none"/>
<path d="M223.05,551.05L224.95,552.95M224.95,551.05L223.05,552.95" stroke="#e0b0c0" stroke-width="0.6" stroke-opacity="0.7" fill="none"/>
<path d="M317.05,539.55L318.95,541.45M318.95,539.55L317.05,541.45" stroke="#e0b0c0" stroke-width="0.6" stroke-opacity="0.7" fill="none"/>
<path d="M265.05,537.05L266.95,538.95M266.95,537.05L265.05,538.95" stroke="#80c080" stroke-width="0.6" stroke-opacity="0.7" fill="none"/>
<ellipse cx="348.70" cy="346.70" rx="1.6" ry="2.2" fill="#248a3e" fill-opacity="1"/>
<ellipse cx="329.80" cy="413.10" rx="1.6" ry="2.2" fill="#248a3e" fill-opacity="1"/>
<ellipse cx="298.10" cy="459.20" rx="1.6" ry="2.2" fill="#248a3e" fill-opacity="1"/>
<ellipse cx="300.60" cy="463.50" rx="1.6" ry="2.2" fill="#248a3e" fill-opacity="1"/>
<ellipse cx="299.60" cy="469.20" rx="1.6" ry="2.2" fill="#248a3e" fill-opacity="1"/>
<ellipse cx="339.00" cy="488.70" rx="1.6" ry="2.2" fill="#248a3e" fill-opacity="1"/>
<ellipse cx="319.20" cy="519.40" rx="1.6" ry="2.2" fill="#248a3e" fill-opacity="1"/>
<ellipse cx="315.00" cy="523.10" rx="1.6" ry="2.2" fill="#248a3e" fill-opacity="1"/>
<ellipse cx="265.90" cy="532.40" rx="1.6" ry="2.2" fill="#248a3e" fill-opacity="1"/>
<ellipse cx="278.30" cy="533.70" rx="1.6" ry="2.2" fill="#248a3e" fill-opacity="1"/>
<ellipse cx="287.70" cy="533.30" rx="1.6" ry="2.2" fill="#248a3e" fill-opacity="1"/>
<ellipse cx="308.80" cy="498.10" rx="1.6" ry="2.2" fill="#980d1e" fill-opacity="1"/>
<ellipse cx="211.00" cy="499.80" rx="1.6" ry="2.2" fill="#980d1e" fill-opacity="1"/>
<ellipse cx="210.20" cy="514.80" rx="1.6" ry="2.2" fill="#980d1e" fill-opacity="1"/>
<ellipse cx="227.10" cy="513.30" rx="1.6" ry="2.2" fill="#980d1e" fill-opacity="1"/>
<ellipse cx="232.90" cy="519.00" rx="1.6" ry="2.2" fill="#980d1e" fill-opacity="1"/>
<ellipse cx="232.90" cy="531.20" rx="1.6" ry="2.2" fill="#980d1e" fill-opacity="1"/>
<ellipse cx="298.10" cy="518.50" rx="1.6" ry="2.2" fill="#980d1e" fill-opacity="1"/>
<ellipse cx="215.90" cy="522.20" rx="1.6" ry="2.2" fill="#d7302a" fill-opacity="1"/>
<ellipse cx="204.40" cy="527.10" rx="1.6" ry="2.2" fill="#d7302a" fill-opacity="1"/>
<ellipse cx="238.30" cy="533.50" rx="1.6" ry="2.2" fill="#d7302a" fill-opacity="1"/>
<ellipse cx="294.20" cy="525.00" rx="1.6" ry="2.2" fill="#d7302a" fill-opacity="1"/>
<ellipse cx="297.70" cy="526.90" rx="1.6" ry="2.2" fill="#d7302a" fill-opacity="1"/>
<ellipse cx="193.70" cy="496.50" rx="1.6" ry="2.2" fill="#f0a72a" fill-opacity="1"/>
<ellipse cx="222.50" cy="511.50" rx="1.6" ry="2.2" fill="#f0a72a" fill-opacity="1"/>
<ellipse cx="229.40" cy="525.40" rx="1.6" ry="2.2" fill="#f0a72a" fill-opacity="1"/>
<ellipse cx="235.80" cy="524.80" rx="1.6" ry="2.2" fill="#45207a" fill-opacity="1"/>
<ellipse cx="235.20" cy="533.50" rx="1.6" ry="2.2" fill="#1fb3c3" fill-opacity="1"/>
<ellipse cx="254.30" cy="523.80" rx="1.6" ry="2.2" fill="#35a3d8" fill-opacity="1"/>
<ellipse cx="248.50" cy="534.60" rx="1.6" ry="2.2" fill="#35a3d8" fill-opacity="1"/>
<ellipse cx="293.70" cy="536.80" rx="1.6" ry="2.2" fill="#35a3d8" fill-opacity="1"/>
<ellipse cx="292.40" cy="540.50" rx="1.6" ry="2.2" fill="#35a3d8" fill-opacity="1"/>
<ellipse cx="283.00" cy="545.20" rx="1.6" ry="2.2" fill="#35a3d8" fill-opacity="1"/>
<ellipse cx="282.30" cy="547.20" rx="1.6" ry="2.2" fill="#35a3d8" fill-opacity="1"/>
<ellipse cx="291.20" cy="525.80" rx="1.6" ry="2.2" fill="#35a3d8" fill-opacity="1"/>
<ellipse cx="250.30" cy="543.10" rx="1.6" ry="2.2" fill="#1d5f95" fill-opacity="1"/>
<ellipse cx="265.90" cy="544.50" rx="1.6" ry="2.2" fill="#1d5f95" fill-opacity="1"/>
<ellipse cx="277.60" cy="550.30" rx="1.6" ry="2.2" fill="#1d5f95" fill-opacity="1"/>
<ellipse cx="259.40" cy="552.60" rx="1.6" ry="2.2" fill="#1d5f95" fill-opacity="1"/>
<ellipse cx="286.20" cy="521.20" rx="1.6" ry="2.2" fill="#980d1e" fill-opacity="1"/>
<ellipse cx="290.00" cy="523.10" rx="1.6" ry="2.2" fill="#d7302a" fill-opacity="1"/>
<ellipse cx="286.60" cy="525.40" rx="1.6" ry="2.2" fill="#980d1e" fill-opacity="1"/>
<ellipse cx="288.40" cy="541.20" rx="1.6" ry="2.2" fill="#d7302a" fill-opacity="1"/>
<ellipse cx="289.00" cy="543.80" rx="1.6" ry="2.2" fill="#980d1e" fill-opacity="1"/>
<ellipse cx="285.70" cy="549.90" rx="1.6" ry="2.2" fill="#d7302a" fill-opacity="1"/>
<ellipse cx="251.50" cy="540.80" rx="1.6" ry="2.2" fill="#d7302a" fill-opacity="1"/>
<line x1="260.50" y1="338.40" x2="260.50" y2="556.60" stroke="#1a1a1a" stroke-width="1.5" stroke-dasharray="3.7 3.7"/>
<line x1="287.10" y1="338.40" x2="287.10" y2="556.60" stroke="#1a1a1a" stroke-width="1.5" stroke-dasharray="3.7 3.7"/>
<line x1="171.40" y1="532.10" x2="376.30" y2="532.10" stroke="#1a1a1a" stroke-width="1.8" stroke-dasharray="2.7 2.345"/>
<ellipse cx="193.6" cy="496.6" rx="3.6" ry="4.9" fill="none" stroke="#f4cf7a" stroke-width="1.1" stroke-dasharray="2.2 1.8"/>
<path d="M197,495.5 C201,499 205,503 209,504.8 C214,505.5 218,505.6 219.5,506.1 C221.5,508 222.6,511.2 224.3,517.7 L226.5,523.5" fill="none" stroke="#f2c25a" stroke-width="1.3" stroke-dasharray="2.4 2.2"/>
<path d="M194,501.5 C198,505 203,507.8 208.1,508.7 C213,509.2 216,509.5 218.7,511.6 C221,514 222,517 223,520" fill="none" stroke="#f5d27e" stroke-width="1.3" stroke-dasharray="2.4 2.2"/>
<path d="M206,497.5 C209,493 216,492.5 221,495.5 C226,498.5 230,502 232.4,506.8 C235,513 236.5,521 237.9,529 L236.5,536" fill="none" stroke="#a01828" stroke-width="1.2" stroke-dasharray="2.6 2.0"/>
<path d="M207.5,500.5 C213,500 219,501 223.3,502.7 C226,505 227,509 227.8,514 C228.5,520 228.8,528 230.5,536" fill="none" stroke="#a01828" stroke-width="1.2" stroke-dasharray="2.6 2.0"/>
<ellipse cx="210.4" cy="523.4" rx="10.0" ry="5.8" transform="rotate(-32 210.4 523.4)" fill="none" stroke="#e05030" stroke-width="1.1" stroke-dasharray="2.4 2.0"/>
<text x="352.20" y="349.00" font-size="6.8" fill="#222" font-weight="normal" textLength="12.00" lengthAdjust="spacingAndGlyphs">ST2</text>
<text x="333.50" y="415.40" font-size="6.8" fill="#222" font-weight="normal" textLength="21.70" lengthAdjust="spacingAndGlyphs">CXCL9</text>
<text x="297.80" y="455.20" font-size="6.8" fill="#222" font-weight="normal" textLength="21.60" lengthAdjust="spacingAndGlyphs">sCD13</text>
<text x="297.80" y="478.80" font-size="6.8" fill="#222" font-weight="normal" textLength="22.20" lengthAdjust="spacingAndGlyphs">ICAM-1</text>
<text x="313.20" y="500.40" font-size="6.8" fill="#222" font-weight="normal" textLength="31.80" lengthAdjust="spacingAndGlyphs">Memory Th</text>
<text x="320.50" y="516.30" font-size="6.8" fill="#222" font-weight="normal" textLength="26.00" lengthAdjust="spacingAndGlyphs">CXCL10</text>
<text x="318.50" y="529.20" font-size="6.8" fill="#222" font-weight="normal" textLength="25.00" lengthAdjust="spacingAndGlyphs">CXCL11</text>
<text x="177.10" y="488.80" font-size="6.8" fill="#222" font-weight="normal" textLength="18.50" lengthAdjust="spacingAndGlyphs">NKreg</text>
<text x="175.50" y="520.00" font-size="6.8" fill="#222" font-weight="normal" textLength="30.90" lengthAdjust="spacingAndGlyphs">Naive Treg</text>
<text x="230.50" y="500.30" font-size="6.8" fill="#222" font-weight="normal" textLength="24.30" lengthAdjust="spacingAndGlyphs">Naive Th</text>
</svg></body></html>
